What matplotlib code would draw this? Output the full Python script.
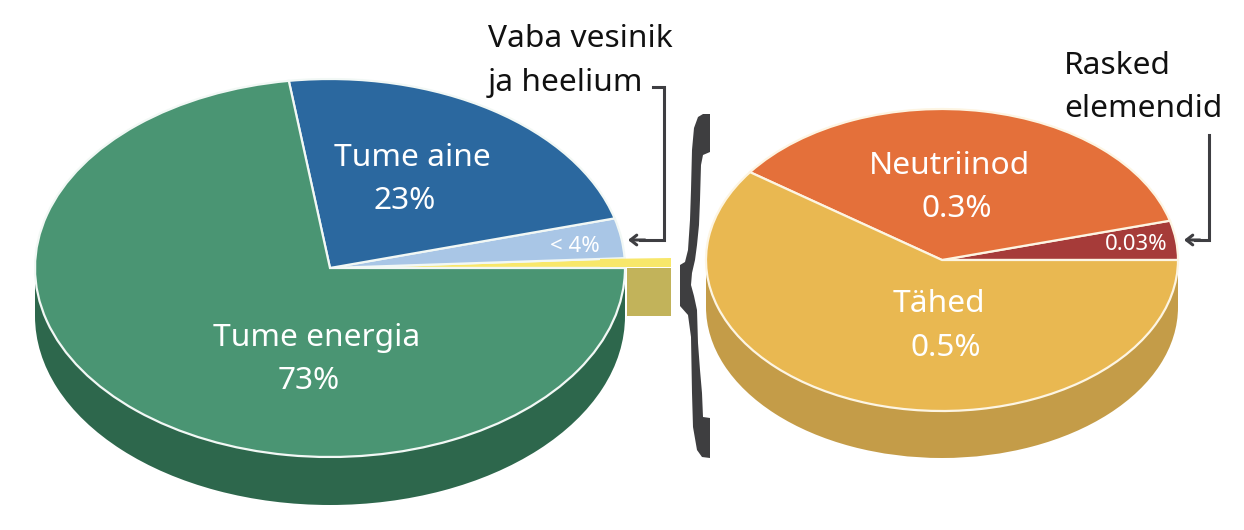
import matplotlib
matplotlib.use("Agg")
import matplotlib.pyplot as plt
from matplotlib.patches import Polygon, Rectangle

# left pie (the <4% splits into gas and the rest)
left_names = ["rest", "Vaba vesinik ja heelium", "Tume aine", "Tume energia"]
left_values = [0.83, 3.4, 23, 72.77]
left_colors = ["#f8e76a", "#a9c6e6", "#2b689f", "#4a9573"]

# right pie is the blow up of the yellow slice
right_names = ["Rasked elemendid", "Neutriinod", "Tähed"]
right_values = [0.035, 0.3, 0.5]
right_colors = ["#a63b39", "#e4703a", "#e9b851"]

W, H = 1244, 530
plt.rcParams["font.family"] = ["Noto Sans", "DejaVu Sans"]

fig = plt.figure(figsize=(W / 100, H / 100), dpi=100)

# overlay in pixel coords for the labels and connectors
ax = fig.add_axes([0, 0, 1, 1], zorder=3)
ax.set_xlim(0, W)
ax.set_ylim(H, 0)
ax.axis("off")


def draw_pie(cx, cy, rx, ry, depth, values, colors, wall, rim):
    a = fig.add_axes([(cx - rx) / W, 1 - (cy + ry) / H, 2 * rx / W, 2 * ry / H], zorder=1)
    d = depth / ry
    a.pie([1], colors=[wall], center=(0, -d), radius=1, startangle=0)
    a.add_patch(Rectangle((-1, -d), 2, d, facecolor=wall, edgecolor="none"))
    a.pie(values, colors=colors, startangle=0, counterclock=True, radius=1,
          wedgeprops={"edgecolor": rim, "linewidth": 1.6})
    a.set_aspect("auto")
    a.set_xlim(-1, 1)
    a.set_ylim(-1, 1)
    a.axis("off")
    for p in a.patches:
        p.set_clip_on(False)
    return a


draw_pie(330, 268, 295, 189, 48, left_values, left_colors, "#2d674c", "#f2f8f5")
draw_pie(942, 260, 236, 151, 47, right_values, right_colors, "#c49c48", "#fdf5e3")

# connector between the two pies
ax.add_patch(Rectangle((627, 268), 44, 48, facecolor="#c2b35a", edgecolor="none"))
ax.add_patch(Polygon([(600, 259), (671, 258), (671, 267), (600, 267)], facecolor="#f8e76a", edgecolor="none"))

# curly brace
brace = [(703, 114), (710, 114), (710, 152), (703, 155), (701, 165), (700, 200), (699, 225),
         (697, 245), (695, 260), (692, 273), (691, 285), (694, 296), (697, 310), (698, 343),
         (700, 370), (702, 393), (703, 417), (710, 418), (710, 458), (702, 457), (697, 450),
         (693, 427), (692, 393), (691, 337), (688, 315), (680, 306), (680, 265), (685, 262),
         (688, 250), (690, 220), (691, 190), (692, 150), (694, 128), (698, 117)]
ax.add_patch(Polygon(brace, facecolor="#3e3e40", edgecolor="none"))

# arrows
arrow_col = "#3e3e42"
ax.plot([653, 664, 664, 640], [87, 87, 240, 240], color=arrow_col, lw=2.2, solid_joinstyle="miter")
ax.annotate("", xy=(628, 240), xytext=(645, 240),
            arrowprops={"arrowstyle": "->,head_length=0.45,head_width=0.35", "color": arrow_col, "lw": 2.2,
                        "shrinkA": 0, "shrinkB": 0})
ax.plot([1209, 1209, 1195], [135, 240, 240], color=arrow_col, lw=2.2, solid_joinstyle="miter")
ax.annotate("", xy=(1184, 240), xytext=(1200, 240),
            arrowprops={"arrowstyle": "->,head_length=0.45,head_width=0.35", "color": arrow_col, "lw": 2.2,
                        "shrinkA": 0, "shrinkB": 0})

big = 22.8
txt = dict(ha="center", va="center", color="white", fontsize=big)
ax.text(412, 158, "Tume aine", **txt)
ax.text(405, 201, "23%", **txt)
ax.text(317, 338, "Tume energia", **txt)
ax.text(309, 381, "73%", **txt)
ax.text(949, 166, "Neutriinod", **txt)
ax.text(957, 209, "0.3%", **txt)
ax.text(939, 304, "Tähed", **txt)
ax.text(946, 348, "0.5%", **txt)
ax.text(575, 246, "< 4%", ha="center", va="center", color="white", fontsize=16)
ax.text(1136, 245, "0.03%", ha="center", va="center", color="white", fontsize=16)

blk = dict(ha="left", va="center", color="#111111", fontsize=big)
ax.text(488, 39, "Vaba vesinik", **blk)
ax.text(488, 83, "ja heelium", **blk)
ax.text(1064, 66, "Rasked", **blk)
ax.text(1064, 109, "elemendid", **blk)

fig.savefig("out.png", dpi=100, facecolor="white")
